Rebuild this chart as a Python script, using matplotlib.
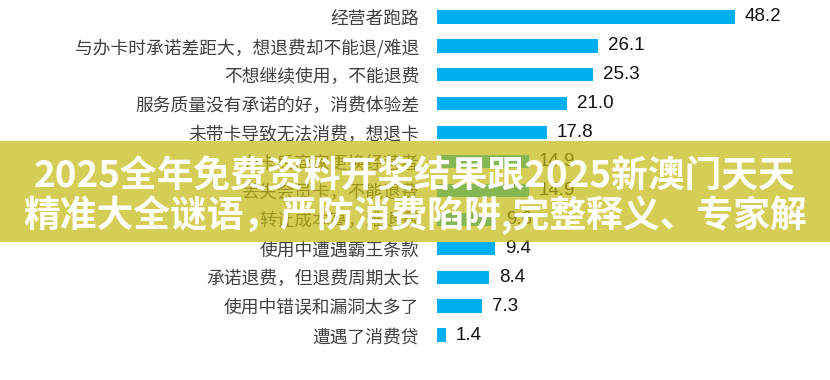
import matplotlib.pyplot as plt
from matplotlib.patches import Rectangle

plt.rcParams['font.family'] = ['Noto Sans CJK SC', 'DejaVu Sans']

# data, top to bottom
labels = ['经营者跑路', '与办卡时承诺差距大，想退费却不能退/难退', '不想继续使用，不能退费',
          '服务质量没有承诺的好，消费体验差', '未带卡导致无法消费，想退卡', '办卡后商家更换经营者',
          '丢失会员卡，不能退费', '转让成本高，难退费', '使用中遭遇霸王条款',
          '承诺退费，但退费周期太长', '使用中错误和漏洞太多了', '遭遇了消费贷']
values = [48.2, 26.1, 25.3, 21.0, 17.8, 14.9, 14.9, 9.6, 9.4, 8.4, 7.3, 1.4]

banner_lines = ['2025全年免费资料开奖结果跟2025新澳门天天', '精准大全谜语，严防消费陷阱,完整释义、专家解']

fig = plt.figure(figsize=(8.3, 3.8), dpi=100)
ax = fig.add_axes([437 / 830, 30.5 / 380, 363 / 830, 347 / 380])

ypos = list(range(len(values)))
ax.barh(ypos, values, height=0.46, color='#00B0F0')
for y, v in zip(ypos, values):
    ax.text(v + 1.6, y, f'{v:.1f}', va='center', ha='left', fontsize=13.5,
            family=['Liberation Sans Narrow', 'Liberation Sans'], color='#111111')

ax.set_yticks(ypos)
ax.set_yticklabels(labels, fontsize=12.8, color='#404040')
ax.tick_params(axis='y', length=0, pad=13)
ax.set_ylim(len(values) - 0.5, -0.5)
ax.set_xlim(0, 58.7)
ax.set_xticks([])
for s in ax.spines.values():
    s.set_visible(False)

# semi transparent banner across the middle
fig.patches.append(Rectangle((0, (380 - 242) / 380), 1, 101 / 380, transform=fig.transFigure,
                             facecolor=(194 / 255, 186 / 255, 16 / 255), alpha=0.7, zorder=5))
fig.text(0.5, 1 - 177 / 380, banner_lines[0], ha='center', va='center', fontsize=26.5,
         fontweight='black', color='white', zorder=6)
fig.text(0.5, 1 - 215 / 380, banner_lines[1], ha='center', va='center', fontsize=26.5,
         fontweight='black', color='white', zorder=6)

fig.savefig('out.png', dpi=100)
